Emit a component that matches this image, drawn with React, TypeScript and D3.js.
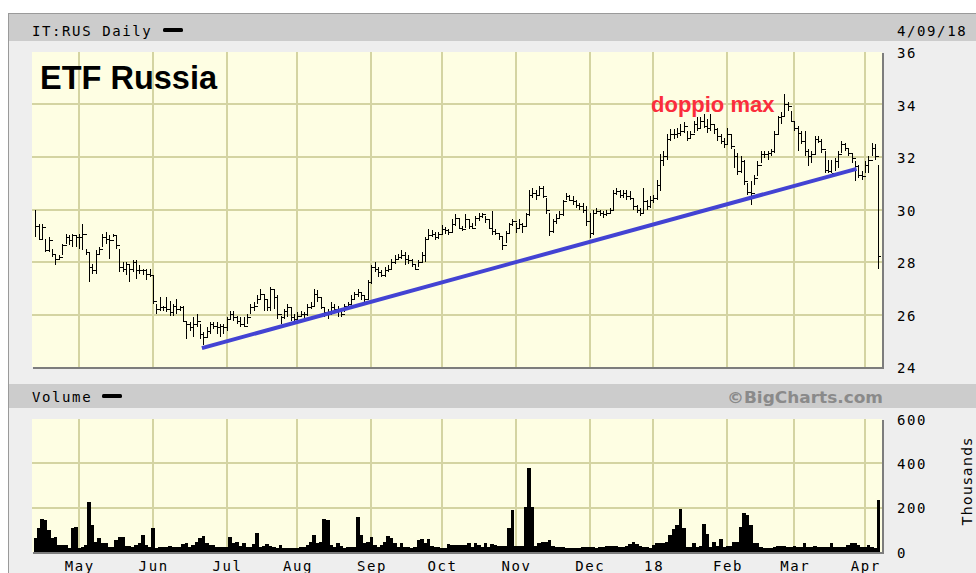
import React from "react";
import * as d3 from "d3";

// ---- calendar (Borsa Italiana trading days) ----
const firstDay = "2017-04-10";
const lastDay = "2018-04-09";
const holidays = ["2017-04-14", "2017-04-17", "2017-05-01", "2017-08-15", "2017-12-25", "2017-12-26", "2018-01-01", "2018-03-30", "2018-04-02"];
const monthLabels = ["May", "Jun", "Jul", "Aug", "Sep", "Oct", "Nov", "Dec", "18", "Feb", "Mar", "Apr"];
const priceTicks = [24, 26, 28, 30, 32, 34, 36];
const volumeTicks = [0, 200, 400, 600];

// ---- daily prices ----
const close = [
  29.39, 28.88, 29.33, 28.44, 28.82, 28.31, 28.12, 28.18, 28.63, 28.95,
  28.82, 29.01, 28.95, 28.95, 29.07, 28.37, 27.80, 27.68, 28.31, 28.50,
  28.95, 28.88, 28.82, 29.01, 28.63, 27.80, 27.74, 27.93, 27.74, 27.99,
  27.68, 27.68, 27.68, 27.55, 27.49, 26.53, 26.22, 26.28, 26.28, 26.22,
  26.09, 26.34, 26.22, 26.28, 25.77, 25.64, 25.52, 25.64, 25.77, 25.26,
  25.14, 25.39, 25.64, 25.58, 25.52, 25.58, 25.52, 25.83, 26.03, 25.90,
  25.77, 25.64, 25.58, 25.90, 26.28, 26.34, 26.60, 26.79, 26.60, 26.28,
  26.98, 26.66, 26.03, 25.90, 26.15, 26.28, 25.90, 25.83, 25.96, 26.03,
  26.03, 26.28, 26.34, 26.79, 26.66, 26.28, 26.09, 26.03, 26.28, 26.22,
  26.15, 26.03, 26.34, 26.41, 26.60, 26.79, 26.85, 26.73, 26.60, 27.24,
  27.81, 27.75, 27.62, 27.49, 27.68, 27.75, 28.00, 28.13, 28.19, 28.25,
  28.13, 28.06, 27.94, 27.75, 28.00, 28.25, 28.89, 29.02, 29.08, 28.96,
  29.08, 29.27, 29.21, 29.15, 29.43, 29.68, 29.30, 29.24, 29.62, 29.36,
  29.30, 29.68, 29.74, 29.81, 29.62, 29.30, 29.17, 29.11, 28.98, 28.66,
  29.11, 29.43, 29.55, 29.30, 29.43, 29.36, 29.81, 30.57, 30.63, 30.57,
  30.82, 30.51, 30.00, 29.17, 29.55, 29.68, 29.81, 30.32, 30.51, 30.38,
  30.32, 30.19, 30.13, 30.00, 29.55, 29.11, 29.87, 29.93, 29.87, 29.81,
  29.87, 30.00, 30.63, 30.70, 30.57, 30.63, 30.51, 30.44, 30.13, 30.00,
  29.87, 30.32, 30.13, 30.38, 30.44, 30.95, 31.90, 32.03, 32.67, 32.87,
  32.87, 32.93, 33.00, 33.19, 32.74, 32.87, 33.25, 33.12, 33.38, 33.19,
  33.12, 33.25, 33.06, 32.80, 32.61, 32.48, 32.87, 32.42, 32.03, 31.45,
  31.84, 31.07, 30.68, 30.62, 31.19, 31.71, 32.10, 32.10, 32.16, 32.22,
  32.87, 33.51, 33.58, 34.03, 33.96, 33.38, 33.12, 32.93, 32.61, 32.22,
  32.03, 32.10, 32.67, 32.61, 32.29, 31.52, 31.45, 31.39, 31.84, 32.10,
  32.48, 32.35, 32.16, 31.97, 31.64, 31.32, 31.26, 31.71, 31.90, 32.35,
  32.03, 28.23,
];
const high = [
  30.00, 29.45, 29.45, 28.88, 28.95, 28.50, 28.25, 28.25, 28.69, 29.07,
  29.01, 29.07, 29.01, 29.07, 29.45, 28.50, 28.37, 27.93, 28.44, 28.57,
  29.07, 29.14, 29.01, 29.07, 29.01, 28.50, 27.99, 27.99, 27.87, 28.06,
  28.06, 27.87, 27.74, 27.74, 27.74, 27.45, 26.41, 26.66, 26.34, 26.66,
  26.53, 26.41, 26.60, 26.34, 26.34, 25.77, 25.71, 25.90, 26.03, 25.64,
  25.33, 25.52, 25.71, 25.71, 25.71, 25.64, 25.64, 25.90, 26.15, 26.15,
  25.96, 25.90, 25.90, 26.03, 26.41, 26.47, 26.73, 26.98, 26.79, 26.54,
  27.04, 26.98, 26.73, 25.96, 26.22, 26.41, 26.28, 26.03, 26.09, 26.15,
  26.09, 26.41, 26.47, 26.98, 26.92, 26.66, 26.28, 26.22, 26.47, 26.41,
  26.34, 26.09, 26.41, 26.47, 26.73, 26.85, 26.98, 26.85, 26.73, 27.30,
  27.87, 28.00, 27.81, 27.68, 27.81, 27.87, 28.13, 28.25, 28.32, 28.45,
  28.38, 28.25, 28.13, 27.94, 28.06, 28.38, 28.96, 29.27, 29.21, 29.15,
  29.15, 29.40, 29.34, 29.27, 29.62, 29.81, 29.62, 29.36, 29.81, 29.62,
  29.49, 29.74, 29.87, 29.87, 29.74, 29.62, 29.93, 29.24, 29.11, 28.98,
  29.17, 29.49, 29.62, 29.49, 29.62, 29.49, 29.87, 30.76, 30.82, 30.76,
  30.89, 30.89, 30.44, 29.87, 29.62, 29.81, 29.93, 30.38, 30.63, 30.57,
  30.51, 30.38, 30.25, 30.25, 30.13, 29.87, 30.00, 30.06, 30.00, 29.93,
  30.00, 30.06, 30.76, 30.82, 30.76, 30.76, 30.76, 30.70, 30.44, 30.19,
  30.06, 30.82, 30.38, 30.51, 30.57, 31.14, 32.10, 32.22, 32.87, 33.06,
  33.06, 33.12, 33.25, 33.32, 33.00, 33.00, 33.38, 33.51, 33.51, 33.64,
  33.45, 33.64, 33.25, 33.12, 32.87, 32.74, 33.12, 32.87, 32.29, 32.16,
  32.03, 31.90, 31.00, 31.07, 31.32, 31.84, 32.22, 32.22, 32.22, 32.29,
  33.00, 33.58, 33.70, 34.41, 34.09, 33.77, 33.38, 33.19, 33.00, 33.00,
  32.29, 32.22, 32.80, 32.80, 32.67, 32.22, 31.90, 31.90, 31.97, 32.22,
  32.61, 32.55, 32.35, 32.10, 31.84, 31.71, 31.45, 31.84, 32.03, 32.55,
  32.48, 31.71,
];
const low = [
  28.95, 28.82, 28.82, 28.37, 28.37, 28.18, 27.87, 28.06, 28.25, 28.69,
  28.63, 28.57, 28.57, 28.50, 28.44, 28.25, 27.23, 27.55, 27.55, 28.31,
  28.57, 28.69, 28.12, 28.95, 28.50, 27.61, 27.61, 27.49, 27.23, 27.61,
  27.36, 27.55, 27.49, 27.30, 27.42, 26.41, 26.03, 26.15, 26.15, 26.09,
  25.96, 25.96, 26.03, 26.15, 25.71, 25.07, 25.39, 25.14, 25.52, 25.07,
  24.82, 25.14, 25.26, 25.45, 25.26, 25.14, 25.26, 25.39, 25.83, 25.77,
  25.64, 25.52, 25.52, 25.64, 26.03, 26.15, 26.41, 26.54, 26.15, 26.15,
  26.15, 26.22, 25.83, 25.64, 25.83, 25.90, 25.77, 25.71, 25.64, 25.90,
  25.83, 25.96, 26.22, 26.28, 26.47, 26.22, 25.90, 25.83, 26.09, 26.09,
  25.90, 25.90, 26.09, 26.28, 26.41, 26.60, 26.66, 26.54, 26.47, 26.54,
  27.17, 27.62, 27.43, 27.43, 27.43, 27.62, 27.68, 27.94, 28.06, 28.13,
  27.87, 27.94, 27.81, 27.68, 27.81, 28.00, 28.00, 28.89, 28.96, 28.83,
  28.89, 29.08, 29.08, 29.02, 29.11, 29.36, 29.24, 29.17, 29.30, 29.24,
  29.24, 29.36, 29.55, 29.68, 29.49, 29.24, 29.04, 29.04, 28.85, 28.47,
  28.73, 29.11, 29.36, 29.11, 29.24, 29.11, 29.36, 29.74, 30.44, 30.38,
  30.51, 30.44, 29.81, 28.98, 29.11, 29.43, 29.62, 29.74, 30.38, 30.32,
  30.19, 30.06, 30.00, 29.87, 29.36, 28.92, 29.04, 29.81, 29.74, 29.68,
  29.74, 29.81, 29.93, 30.57, 30.44, 30.44, 30.38, 30.38, 30.00, 29.87,
  29.74, 29.81, 30.00, 30.06, 30.25, 30.38, 30.70, 31.64, 31.90, 32.61,
  32.67, 32.74, 32.80, 32.93, 32.61, 32.67, 32.93, 33.00, 33.06, 33.12,
  32.93, 33.00, 32.87, 32.61, 32.48, 32.35, 32.48, 32.29, 31.58, 31.32,
  31.39, 30.94, 30.55, 30.16, 30.94, 31.26, 31.77, 31.97, 31.90, 32.03,
  32.16, 32.87, 33.25, 33.58, 33.77, 33.32, 33.00, 32.22, 32.48, 32.03,
  31.64, 31.77, 32.10, 32.55, 32.16, 31.39, 31.39, 31.39, 31.45, 31.58,
  32.16, 32.22, 32.03, 31.77, 31.07, 31.19, 31.13, 31.39, 31.39, 32.03,
  31.90, 27.72,
];
// volume, thousands
const volume = [
  62, 107, 147, 144, 99, 62, 69, 32, 32, 32,
  20, 107, 111, 17, 21, 32, 227, 122, 47, 62,
  42, 39, 21, 21, 54, 69, 69, 27, 27, 21,
  32, 39, 77, 32, 21, 107, 17, 24, 24, 24,
  27, 24, 24, 24, 35, 39, 21, 32, 47, 62,
  72, 39, 32, 32, 21, 21, 21, 24, 66, 39,
  44, 27, 39, 24, 24, 36, 87, 24, 27, 35,
  27, 21, 20, 32, 17, 20, 20, 20, 20, 24,
  24, 32, 47, 77, 39, 47, 147, 144, 32, 24,
  39, 27, 20, 24, 24, 24, 156, 77, 39, 47,
  66, 32, 21, 32, 47, 72, 62, 39, 24, 39,
  21, 24, 17, 24, 54, 57, 39, 57, 27, 24,
  21, 17, 20, 35, 32, 32, 32, 32, 32, 42,
  24, 39, 32, 24, 42, 21, 35, 32, 27, 27,
  27, 107, 190, 27, 27, 27, 205, 380, 205, 27,
  39, 47, 47, 54, 27, 21, 21, 24, 20, 20,
  17, 17, 17, 21, 21, 21, 21, 17, 21, 24,
  27, 27, 27, 27, 21, 24, 27, 36, 47, 35,
  27, 24, 21, 17, 32, 39, 39, 39, 47, 77,
  102, 122, 193, 107, 21, 24, 39, 24, 27, 125,
  81, 24, 47, 27, 57, 24, 27, 27, 47, 47,
  114, 177, 167, 122, 39, 42, 21, 17, 17, 17,
  24, 27, 27, 27, 24, 21, 27, 21, 24, 39,
  21, 24, 27, 21, 24, 24, 24, 39, 24, 21,
  24, 21, 32, 39, 42, 32, 24, 24, 32, 21,
  17, 235,
];
// hand-drawn support line (day index, price)
const trendIndex = [49.6, 244.5];
const trendValue = [24.72, 31.55];

function tradingDays(): Date[] {
  const parse = d3.utcParse("%Y-%m-%d");
  const fmt = d3.utcFormat("%Y-%m-%d");
  const start = parse(firstDay) as Date;
  const end = d3.utcDay.offset(parse(lastDay) as Date, 1);
  return d3.utcDay
    .range(start, end)
    .filter((d) => d.getUTCDay() !== 0 && d.getUTCDay() !== 6 && !holidays.includes(fmt(d)));
}

const PL = 32, PR = 882, PT = 52, PB = 367;
const VT = 419, VB = 552;
const GRID = "#d4d4a2";
const BG = "#fefee3";
const mono: React.CSSProperties = { fontFamily: "'DejaVu Sans Mono', monospace", fontSize: 14, letterSpacing: 1.6 };

export default function App() {
  const days = tradingDays();
  const n = close.length;
  const x = d3.scaleLinear().domain([0, n - 1]).range([35.3, 878.4]);
  const y = d3.scaleLinear().domain([24, 36]).range([PB, PT]);
  const yv = d3.scaleLinear().domain([0, 600]).range([VB, VT]);

  const monthStarts: number[] = [];
  for (let i = 1; i < days.length; i++) {
    if (days[i].getUTCMonth() !== days[i - 1].getUTCMonth()) monthStarts.push(i);
  }

  const bars = close.map((c, i) => {
    const cx = Math.round(x(i)) + 0.5;
    const hy = y(high[i]);
    const ly = y(low[i]);
    const cy = Math.round(y(c)) + 0.5;
    let d = `M${cx},${hy}V${ly}M${cx},${cy}H${cx + 2}`;
    if (i > 0) {
      const oy = Math.round(y(close[i - 1])) + 0.5;
      d += `M${cx - 2},${oy}H${cx}`;
    }
    return d;
  }).join("");

  const volBars = volume.map((v, i) => {
    const x0 = Math.max(PL, x(i - 0.5));
    const x1 = Math.min(PR, x(i + 0.5));
    return <rect key={i} x={x0} y={yv(v)} width={x1 - x0 + 0.3} height={yv(0) - yv(v)} fill="#000" />;
  });

  const trend = d3.line<number>()
    .x((_, k) => x(trendIndex[k]))
    .y((v) => y(v))(trendValue) as string;

  return (
    <svg width={976} height={573} style={{ position: "absolute", left: 0, top: 0, background: "#fff" }}>
      {/* frame */}
      <rect x={8.5} y={13.5} width={980} height={600} fill="#eeeeee" stroke="#9a9a9a" />
      <rect x={9} y={14} width={967} height={27} fill="#cccccc" />
      <rect x={9} y={384} width={967} height={24} fill="#cccccc" />

      {/* price panel */}
      <rect x={PL + 1} y={PT + 1} width={PR - PL + 1} height={PB - PT + 1} fill="#7d7d7d" />
      <rect x={PL} y={PT} width={PR - PL} height={PB - PT} fill={BG} />
      <g stroke={GRID} strokeWidth={2} shapeRendering="crispEdges">
        {priceTicks.filter((t) => t > 24 && t < 36).map((t) => (
          <line key={t} x1={PL} x2={PR} y1={Math.round(y(t))} y2={Math.round(y(t))} />
        ))}
        {monthStarts.map((m) => (
          <line key={m} x1={Math.round(x(m))} x2={Math.round(x(m))} y1={PT} y2={PB} />
        ))}
      </g>
      <path d={bars} stroke="#000" strokeWidth={1} fill="none" shapeRendering="crispEdges" />
      <path d={trend} stroke="#4343d3" strokeWidth={4} fill="none" />

      {/* volume panel */}
      <rect x={PL + 1} y={VT + 1} width={PR - PL + 1} height={VB - VT + 1} fill="#7d7d7d" />
      <rect x={PL} y={VT} width={PR - PL} height={VB - VT} fill={BG} />
      <g stroke={GRID} strokeWidth={2} shapeRendering="crispEdges">
        {volumeTicks.filter((t) => t > 0 && t < 600).map((t) => (
          <line key={t} x1={PL} x2={PR} y1={Math.round(yv(t))} y2={Math.round(yv(t))} />
        ))}
        {monthStarts.map((m) => (
          <line key={m} x1={Math.round(x(m))} x2={Math.round(x(m))} y1={VT} y2={VB} />
        ))}
      </g>
      <g shapeRendering="crispEdges">{volBars}</g>

      {/* header texts */}
      <text x={32} y={35.5} style={mono} fill="#000">IT:RUS Daily</text>
      <rect x={163} y={28} width={20} height={4} rx={1.5} fill="#000" />
      <text x={897} y={35.5} style={mono} fill="#000">4/09/18</text>
      <text x={32} y={402} style={mono} fill="#000">Volume</text>
      <rect x={102} y={394} width={20} height={4} rx={1.5} fill="#000" />
      <text x={727} y={403} textLength={156} lengthAdjust="spacingAndGlyphs" fill="#8a8a8a"
        style={{ fontFamily: "'DejaVu Sans', Verdana, sans-serif", fontWeight: "bold", fontSize: 16 }}>
        ©BigCharts.com
      </text>

      {/* axis labels */}
      {priceTicks.map((t) => (
        <text key={t} x={897} y={y(t) + 6} style={mono} fill="#000">{t}</text>
      ))}
      {volumeTicks.map((t) => (
        <text key={t} x={897} y={yv(t) + 5.5} style={mono} fill="#000">{t}</text>
      ))}
      {monthStarts.map((m, k) => (
        <text key={m} x={x(m) + 0.8} y={571} textAnchor="middle" style={mono} fill="#000">{monthLabels[k]}</text>
      ))}
      <text transform="translate(972,481) rotate(-90)" textAnchor="middle" fill="#000"
        style={{ fontFamily: "'DejaVu Sans', sans-serif", fontSize: 14, letterSpacing: 1.4 }}>
        Thousands
      </text>

      {/* annotations */}
      <text x={40} y={89} fill="#000"
        style={{ fontFamily: "'Liberation Sans', Arial, sans-serif", fontWeight: "bold", fontSize: 32.5 }}>
        ETF Russia
      </text>
      <text x={651} y={112} fill="#fb2d3c"
        style={{ fontFamily: "'Liberation Sans', Arial, sans-serif", fontWeight: "bold", fontSize: 22 }}>
        doppio max
      </text>
    </svg>
  );
}
